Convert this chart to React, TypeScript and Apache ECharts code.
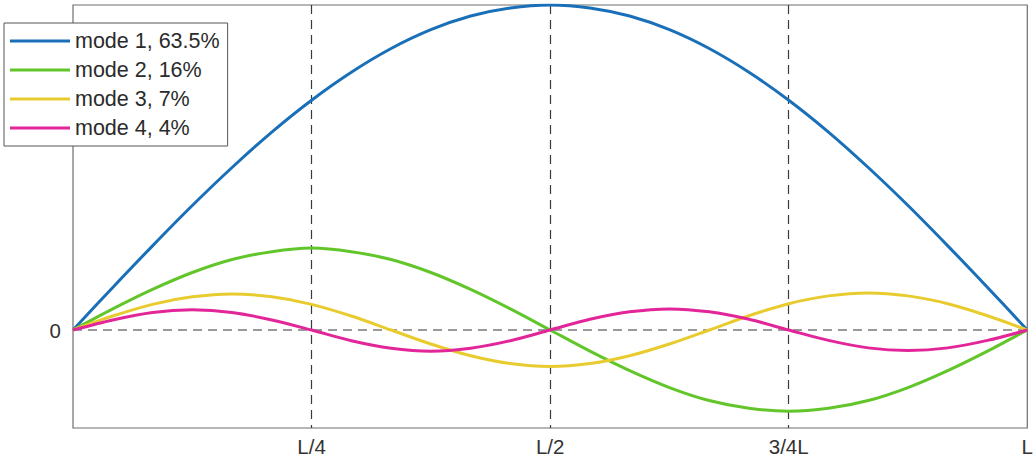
import React, { useEffect, useRef } from "react";
import * as echarts from "echarts";

// Positions along the beam, in fractions of L (steps of L/24)
const positions: number[] = [
  0, 1 / 24, 2 / 24, 3 / 24, 4 / 24, 5 / 24, 6 / 24, 7 / 24, 8 / 24, 9 / 24, 10 / 24, 11 / 24, 12 / 24,
  13 / 24, 14 / 24, 15 / 24, 16 / 24, 17 / 24, 18 / 24, 19 / 24, 20 / 24, 21 / 24, 22 / 24, 23 / 24, 1,
];

// Mode shape amplitudes (normalised to the first mode's peak)
const mode1: number[] = [
  0, 0.131, 0.259, 0.383, 0.5, 0.609, 0.707, 0.793, 0.866, 0.924, 0.966, 0.991, 1.0,
  0.991, 0.966, 0.924, 0.866, 0.793, 0.707, 0.609, 0.5, 0.383, 0.259, 0.131, 0,
];
const mode2: number[] = [
  0, 0.065, 0.125, 0.177, 0.217, 0.241, 0.252, 0.241, 0.217, 0.177, 0.125, 0.065, 0,
  -0.065, -0.125, -0.177, -0.217, -0.241, -0.25, -0.241, -0.217, -0.177, -0.125, -0.065, 0,
];
const mode3: number[] = [
  0, 0.043, 0.079, 0.102, 0.111, 0.102, 0.079, 0.043, 0, -0.043, -0.079, -0.103, -0.112,
  -0.103, -0.079, -0.043, 0, 0.044, 0.081, 0.105, 0.114, 0.105, 0.081, 0.044, 0,
];
const mode4: number[] = [
  0, 0.031, 0.054, 0.062, 0.054, 0.031, 0, -0.033, -0.056, -0.065, -0.056, -0.033, 0,
  0.033, 0.056, 0.065, 0.056, 0.033, 0, -0.032, -0.055, -0.063, -0.055, -0.032, 0,
];

const seriesNames: string[] = ["mode 1, 63.5%", "mode 2, 16%", "mode 3, 7%", "mode 4, 4%"];
const seriesColors: string[] = ["#1a70b8", "#62c62a", "#e8cb2e", "#e2269a"];

const xTickValues: number[] = [0.25, 0.5, 0.75, 1];
const xTickLabels: string[] = ["L/4", "L/2", "3/4L", "L"];

const FONT = "'Liberation Sans', Arial, Helvetica, sans-serif";

export default function App() {
  const ref = useRef<HTMLDivElement>(null);

  useEffect(() => {
    if (!ref.current) return;
    const chart = echarts.init(ref.current, null, { renderer: "svg" });
    const modes = [mode1, mode2, mode3, mode4];

    const curves = modes.map((vals, i) => ({
      name: seriesNames[i],
      type: "line",
      smooth: 0.3,
      symbol: "none",
      data: positions.map((x, j) => [x, vals[j]]),
      lineStyle: { color: seriesColors[i], width: 3 },
      itemStyle: { color: seriesColors[i] },
      z: 3,
    }));

    chart.setOption({
      animation: false,
      grid: {
        left: 73,
        top: 5,
        right: 6,
        bottom: 40,
        show: true,
        borderColor: "#6e6e6e",
        borderWidth: 1.2,
        backgroundColor: "#ffffff",
      },
      legend: {
        orient: "vertical",
        left: 4,
        top: 23,
        data: seriesNames,
        icon: "rect",
        itemWidth: 60,
        itemHeight: 3,
        itemGap: 7,
        padding: [7, 8, 7, 6],
        borderColor: "#555555",
        borderWidth: 1,
        backgroundColor: "#ffffff",
        textStyle: { fontFamily: FONT, fontSize: 21.5, color: "#2b2b2b" },
        selectedMode: false,
        z: 10,
      },
      xAxis: {
        type: "value",
        min: 0,
        max: 1,
        interval: 0.25,
        axisLine: { show: false },
        axisTick: { show: false },
        axisLabel: {
          fontFamily: FONT,
          fontSize: 20.5,
          color: "#333333",
          margin: 8,
          showMinLabel: false,
          formatter: (v: number) => {
            const k = xTickValues.findIndex((t) => Math.abs(t - v) < 1e-6);
            return k >= 0 ? xTickLabels[k] : "";
          },
        },
        splitLine: {
          show: true,
          showMinLine: false,
          showMaxLine: false,
          lineStyle: { color: "#3a3a3a", width: 1.2, type: [9, 6] },
        },
      },
      yAxis: {
        type: "value",
        min: -0.3015,
        max: 1.0,
        axisLine: { show: false },
        axisTick: { show: false },
        splitLine: { show: false },
        axisLabel: {
          customValues: [0],
          fontFamily: FONT,
          fontSize: 20.5,
          color: "#333333",
          margin: 12,
          formatter: () => "0",
        },
      },
      series: [
        {
          name: "zero",
          type: "line",
          symbol: "none",
          silent: true,
          data: [
            [0, 0],
            [1, 0],
          ],
          lineStyle: { color: "#7a7a7a", width: 1.5, type: [9, 6] },
          z: 2,
        },
        ...curves,
      ],
    });

    return () => chart.dispose();
  }, []);

  return (
    <div
      ref={ref}
      style={{ position: "absolute", left: 0, top: 0, width: 1036, height: 468 }}
    />
  );
}
